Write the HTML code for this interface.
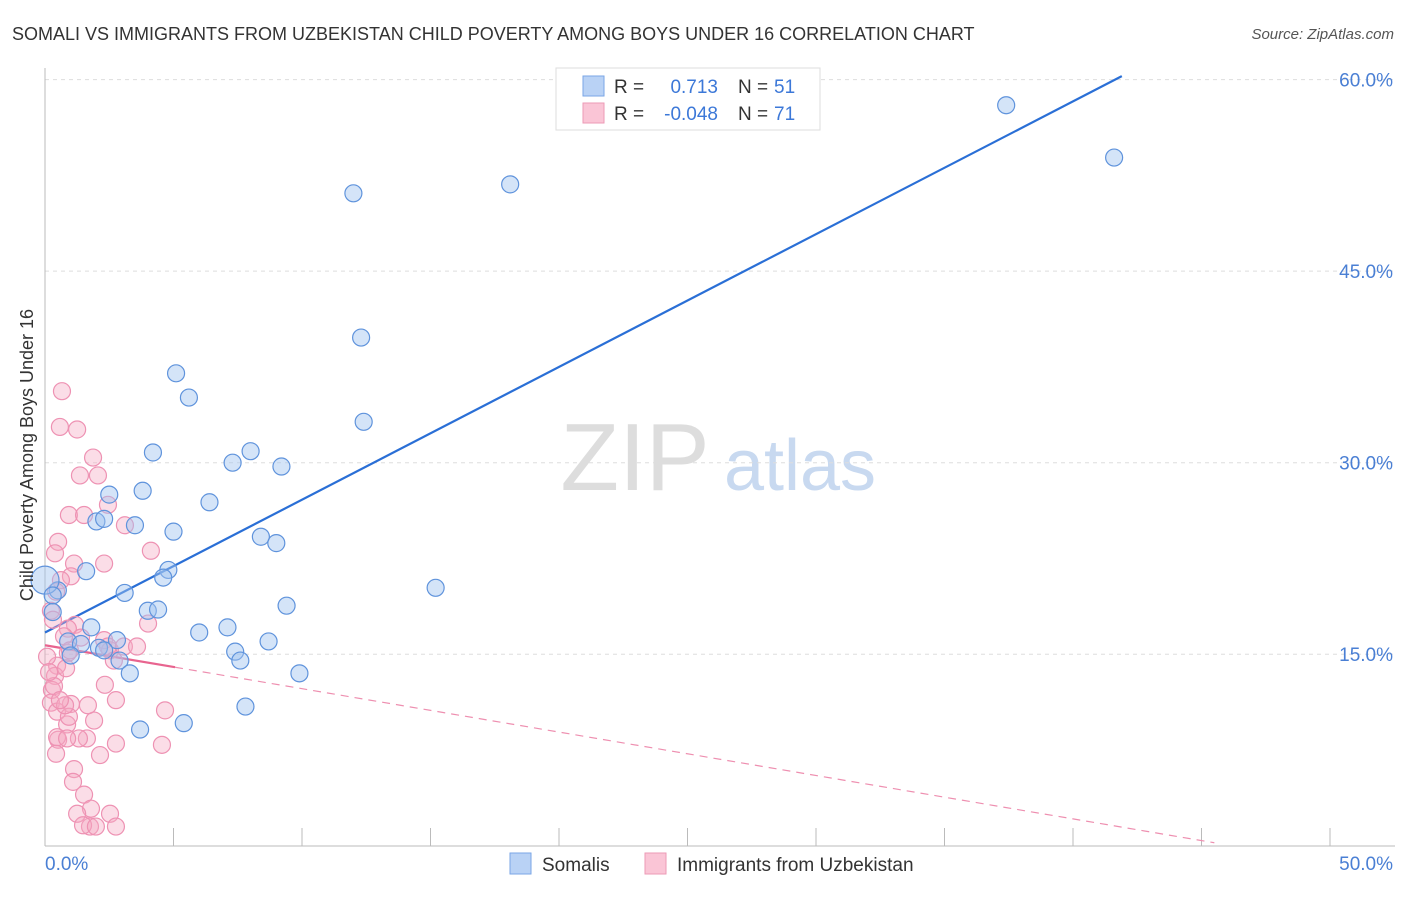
<!DOCTYPE html>
<html><head><meta charset="utf-8"><style>
body{margin:0;background:#fff;font-family:"Liberation Sans",sans-serif}
svg text{font-family:"Liberation Sans",sans-serif}
</style></head><body>
<svg id="chart" width="1406" height="892" xmlns="http://www.w3.org/2000/svg">
<text x="12" y="40" font-size="18" fill="#333">SOMALI VS IMMIGRANTS FROM UZBEKISTAN CHILD POVERTY AMONG BOYS UNDER 16 CORRELATION CHART</text>
<text x="1394" y="39" font-size="15" fill="#555" font-style="italic" text-anchor="end">Source: ZipAtlas.com</text>
<g>
<text x="635" y="490" font-size="96" fill="#ddd" font-family="Liberation Serif,serif" text-anchor="middle">ZIP</text>
<text x="800" y="490" font-size="72" fill="#c8d9f0" text-anchor="middle">atlas</text>
</g>
<g id="grid"></g>
<g id="axes"></g>
<g id="lines"></g>
<g id="points"></g>
<text transform="translate(33,455) rotate(-90)" font-size="18" fill="#333" text-anchor="middle">Child Poverty Among Boys Under 16</text>
<g>
<rect x="556" y="68" width="264" height="62" fill="#fff" stroke="#ddd"/>
<rect x="583" y="76" width="21" height="20" fill="#b9d2f5" stroke="#7aa6e6"/>
<rect x="583" y="103" width="21" height="20" fill="#fac5d6" stroke="#ec9ab6"/>
<text x="614" y="93" font-size="19" fill="#333">R =</text>
<text x="718" y="93" font-size="19" fill="#3c78d8" text-anchor="end">0.713</text>
<text x="738" y="93" font-size="19" fill="#333">N =</text>
<text x="774" y="93" font-size="19" fill="#3c78d8">51</text>
<text x="614" y="120" font-size="19" fill="#333">R =</text>
<text x="718" y="120" font-size="19" fill="#3c78d8" text-anchor="end">-0.048</text>
<text x="738" y="120" font-size="19" fill="#333">N =</text>
<text x="774" y="120" font-size="19" fill="#3c78d8">71</text>
</g>
<g>
<rect x="510" y="853" width="21" height="21" fill="#b9d2f5" stroke="#7aa6e6"/>
<text x="542" y="871" font-size="19" fill="#333">Somalis</text>
<rect x="645" y="853" width="21" height="21" fill="#fac5d6" stroke="#ec9ab6"/>
<text x="677" y="871" font-size="19" fill="#333">Immigrants from Uzbekistan</text>
</g>
</svg>
<script>
const yTicks=[15,30,45,60];
const yTickLabels=["15.0%","30.0%","45.0%","60.0%"];
const xTicks=[0,5,10,15,20,25,30,35,40,45,50];
const xEndLabels=["0.0%","50.0%"];
const somaliX=[37.4,41.6,12.0,18.1,12.3,5.1,5.6,12.4,4.2,7.3,8.0,9.2,3.8,2.5,6.4,2.0,2.3,3.5,5.0,8.4,9.0,1.6,4.8,4.6,15.2,3.1,0.5,4.0,4.4,9.4,7.1,6.0,8.7,1.8,2.8,0.9,1.4,2.1,1.0,7.4,7.6,2.9,3.3,9.9,7.8,3.7,5.4,0.0,0.3,0.3,2.3];
const somaliY=[58.0,53.9,51.1,51.8,39.8,37.0,35.1,33.2,30.8,30.0,30.9,29.7,27.8,27.5,26.9,25.4,25.6,25.1,24.6,24.2,23.7,21.5,21.6,21.0,20.2,19.8,20.0,18.4,18.5,18.8,17.1,16.7,16.0,17.1,16.1,16.0,15.8,15.5,14.9,15.2,14.5,14.5,13.5,13.5,10.9,9.1,9.6,20.8,19.6,18.3,15.3];
const uzbX=[0.66,0.58,1.25,1.87,1.36,2.06,2.45,0.93,1.52,3.11,4.12,0.51,0.39,2.30,1.13,1.01,0.62,0.43,0.23,4.01,1.17,2.30,0.89,0.89,2.53,2.45,3.07,3.58,1.40,0.47,0.39,0.82,0.27,0.35,0.23,0.47,1.01,0.86,0.51,0.93,1.91,1.63,1.32,1.13,0.43,2.76,4.55,1.09,1.52,1.79,1.25,1.75,2.53,1.48,2.76,1.98,0.47,0.78,0.58,2.68,2.33,4.67,0.74,0.97,0.08,0.16,0.31,2.14,0.86,1.67,2.76];
const uzbY=[35.6,32.8,32.6,30.4,29.0,29.0,26.7,25.9,25.9,25.1,23.1,23.8,22.9,22.1,22.1,21.1,20.8,19.9,18.4,17.4,17.3,16.1,17.0,15.1,15.3,15.6,15.6,15.6,16.3,14.1,13.3,13.9,12.2,12.5,11.2,10.5,11.1,9.5,8.3,10.1,9.8,8.4,8.4,6.0,7.2,8.0,7.9,5.0,4.0,2.9,2.5,1.5,2.5,1.6,1.5,1.5,8.5,11.0,11.4,14.5,12.6,10.6,16.4,15.3,14.8,13.6,17.7,7.1,8.4,11.0,11.4];
const somaliTrend=[16.7,1.04];   // intercept, slope
const uzbTrend=[15.7,-0.34];
const uzbSolidEnd=5.06, uzbDashEnd=45.5, somaliTrendEnd=41.9;

const X0=45,X1=1330,Y0=845.7,YPX=12.767;
const sx=v=>X0+(v/50)*(X1-X0);
const sy=v=>Y0-v*YPX;
const NS="http://www.w3.org/2000/svg";
function mk(tag,parent,attrs){const e=document.createElementNS(NS,tag);for(const k in attrs)e.setAttribute(k,attrs[k]);parent.appendChild(e);return e;}
const grid=document.getElementById('grid'),axes=document.getElementById('axes'),lines=document.getElementById('lines'),pts=document.getElementById('points');
yTicks.forEach((t,i)=>{
 const l=mk('line',grid,{x1:45,x2:1395,y1:sy(t),y2:sy(t),stroke:'#ddd','stroke-dasharray':'4,4'});
 
 
 const tx=mk('text',axes,{x:1393,y:sy(t)+7,'font-size':19,fill:'#4a7fd4','text-anchor':'end'});
 tx.textContent=yTickLabels[i];
 
 
});
const ya=mk('line',axes,{x1:45,x2:45,y1:68,y2:846,stroke:'#bbb'});


const xa=mk('line',axes,{x1:45,x2:1395,y1:846,y2:846,stroke:'#bbb'});


xTicks.forEach(t=>{
 const l=mk('line',axes,{x1:sx(t),x2:sx(t),y1:828,y2:846,stroke:'#bbb'});
 
 
});
const xl0=mk('text',axes,{x:45,y:870,'font-size':19,fill:'#4a7fd4'});xl0.textContent=xEndLabels[0];


const xl1=mk('text',axes,{x:1393,y:870,'font-size':19,fill:'#4a7fd4','text-anchor':'end'});xl1.textContent=xEndLabels[1];



uzbX.forEach((x,i)=>{
 const c=mk('circle',pts,{cx:sx(x),cy:sy(uzbY[i]),r:8.5,fill:'rgba(246,170,196,0.4)',stroke:'#ee92b3','stroke-width':1.2});
 
 
});
somaliX.forEach((x,i)=>{
 const c=mk('circle',pts,{cx:sx(x),cy:sy(somaliY[i]),r:i==47?14:8.5,fill:'rgba(160,196,240,0.45)',stroke:'#5f93dc','stroke-width':1.2});
 
 
});
const bl=mk('line',lines,{x1:sx(0),y1:sy(somaliTrend[0]),x2:sx(somaliTrendEnd),y2:sy(somaliTrend[0]+somaliTrend[1]*somaliTrendEnd),stroke:'#2a6fd6','stroke-width':2.2});


const pl=mk('line',lines,{x1:sx(0),y1:sy(uzbTrend[0]),x2:sx(uzbSolidEnd),y2:sy(uzbTrend[0]+uzbTrend[1]*uzbSolidEnd),stroke:'#e8648f','stroke-width':2.2});


const pd=mk('line',lines,{x1:sx(uzbSolidEnd),y1:sy(uzbTrend[0]+uzbTrend[1]*uzbSolidEnd),x2:sx(uzbDashEnd),y2:sy(uzbTrend[0]+uzbTrend[1]*uzbDashEnd),stroke:'#ee8fb0','stroke-width':1.2,'stroke-dasharray':'8,6'});


</script>
</body></html>
